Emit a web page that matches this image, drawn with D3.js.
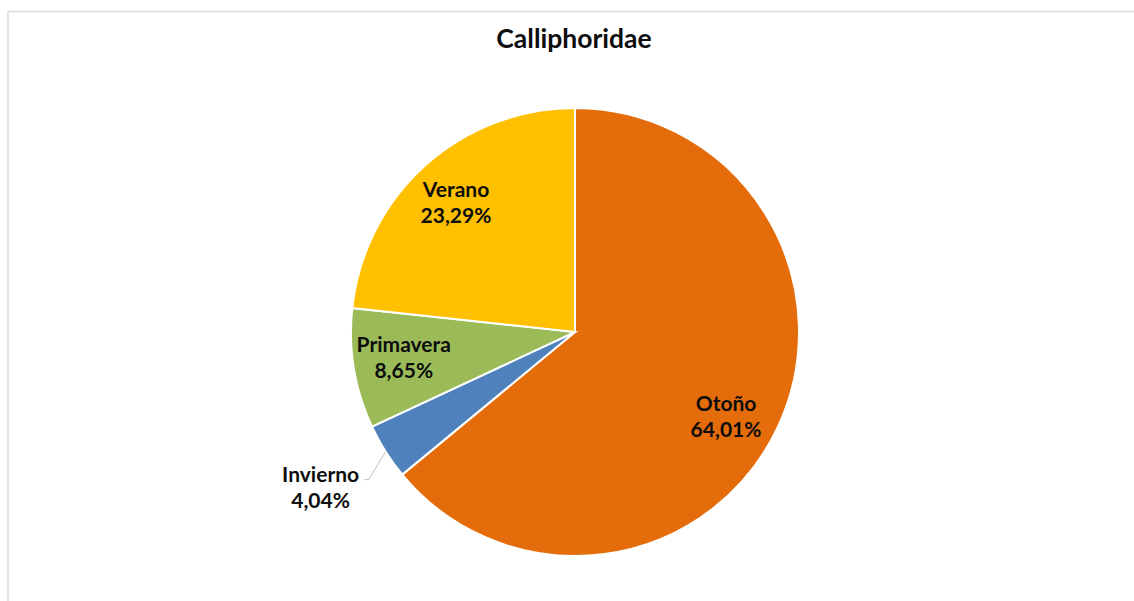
<!DOCTYPE html>
<html>
<head>
<meta charset="utf-8">
<script src="https://cdn.jsdelivr.net/npm/d3@7/dist/d3.min.js"></script>
<style>
  html, body { margin: 0; padding: 0; background: #fff; }
  svg { display: block; }
  text { font-family: Lato, "Open Sans", "Liberation Sans", sans-serif; font-weight: bold; fill: #0d0d0d; }
</style>
</head>
<body>
<svg id="chart" width="1134" height="601"></svg>
<script>
// Season shares of Calliphoridae captures (%)
const seasons = ["Otoño", "Invierno", "Primavera", "Verano"];
const shares = [64.01, 4.04, 8.65, 23.29];
const colors = ["#E46C0A", "#4F81BD", "#9BBB59", "#FFC000"];

const svg = d3.select("#chart");
const W = 1134, H = 601;

// chart frame
svg.append("rect")
  .attr("x", 8).attr("y", 11.5)
  .attr("width", W + 20).attr("height", H + 20)
  .attr("fill", "#fff").attr("stroke", "#d9d9d9").attr("stroke-width", 1.5);

svg.append("text")
  .attr("x", 574).attr("y", 48)
  .attr("text-anchor", "middle")
  .attr("font-size", 26.5)
  .text("Calliphoridae");

const cx = 575, cy = 332, R = 224;
const data = seasons.map((s, i) => ({ name: s, value: shares[i], color: colors[i] }));

const pie = d3.pie().value(d => d.value).sort(null);
const arcs = pie(data);
const arc = d3.arc().innerRadius(0).outerRadius(R);

const g = svg.append("g").attr("transform", `translate(${cx},${cy})`);

g.selectAll("path").data(arcs).enter().append("path")
  .attr("d", arc)
  .attr("fill", d => d.data.color)
  .attr("stroke", "#fff")
  .attr("stroke-width", 2);

const fmt = v => d3.format(".2f")(v).replace(".", ",") + "%";

// label layout: inside labels sit at 0.775R along the slice's mid angle (with a small nudge);
// the thin slice gets an outside label joined by a leader line
const inside = {
  "Otoño": { dx: -6, dy: 11 },
  "Primavera": { dx: 0, dy: -2 },
  "Verano": { dx: -3, dy: 0 }
};
const lineGap = 26;

arcs.forEach(a => {
  const mid = (a.startAngle + a.endAngle) / 2;
  const sx = Math.sin(mid), sy = -Math.cos(mid);
  let x, y, anchor = "middle";
  if (inside[a.data.name]) {
    const r = 0.775 * R;
    x = sx * r + inside[a.data.name].dx;
    y = sy * r + inside[a.data.name].dy - 6;
  } else {
    const px = sx * R, py = sy * R;
    const ex = px - 17, ey = py + 28;
    g.append("polyline")
      .attr("points", `${px},${py} ${ex},${ey} ${ex - 4},${ey}`)
      .attr("fill", "none").attr("stroke", "#bfbfbf").attr("stroke-width", 1);
    x = ex - 48; y = ey + 2;
  }
  const t = g.append("text").attr("text-anchor", anchor).attr("font-size", 21);
  t.append("tspan").attr("x", x).attr("y", y).text(a.data.name);
  t.append("tspan").attr("x", x).attr("y", y + lineGap).text(fmt(a.data.value));
});
</script>
</body>
</html>
